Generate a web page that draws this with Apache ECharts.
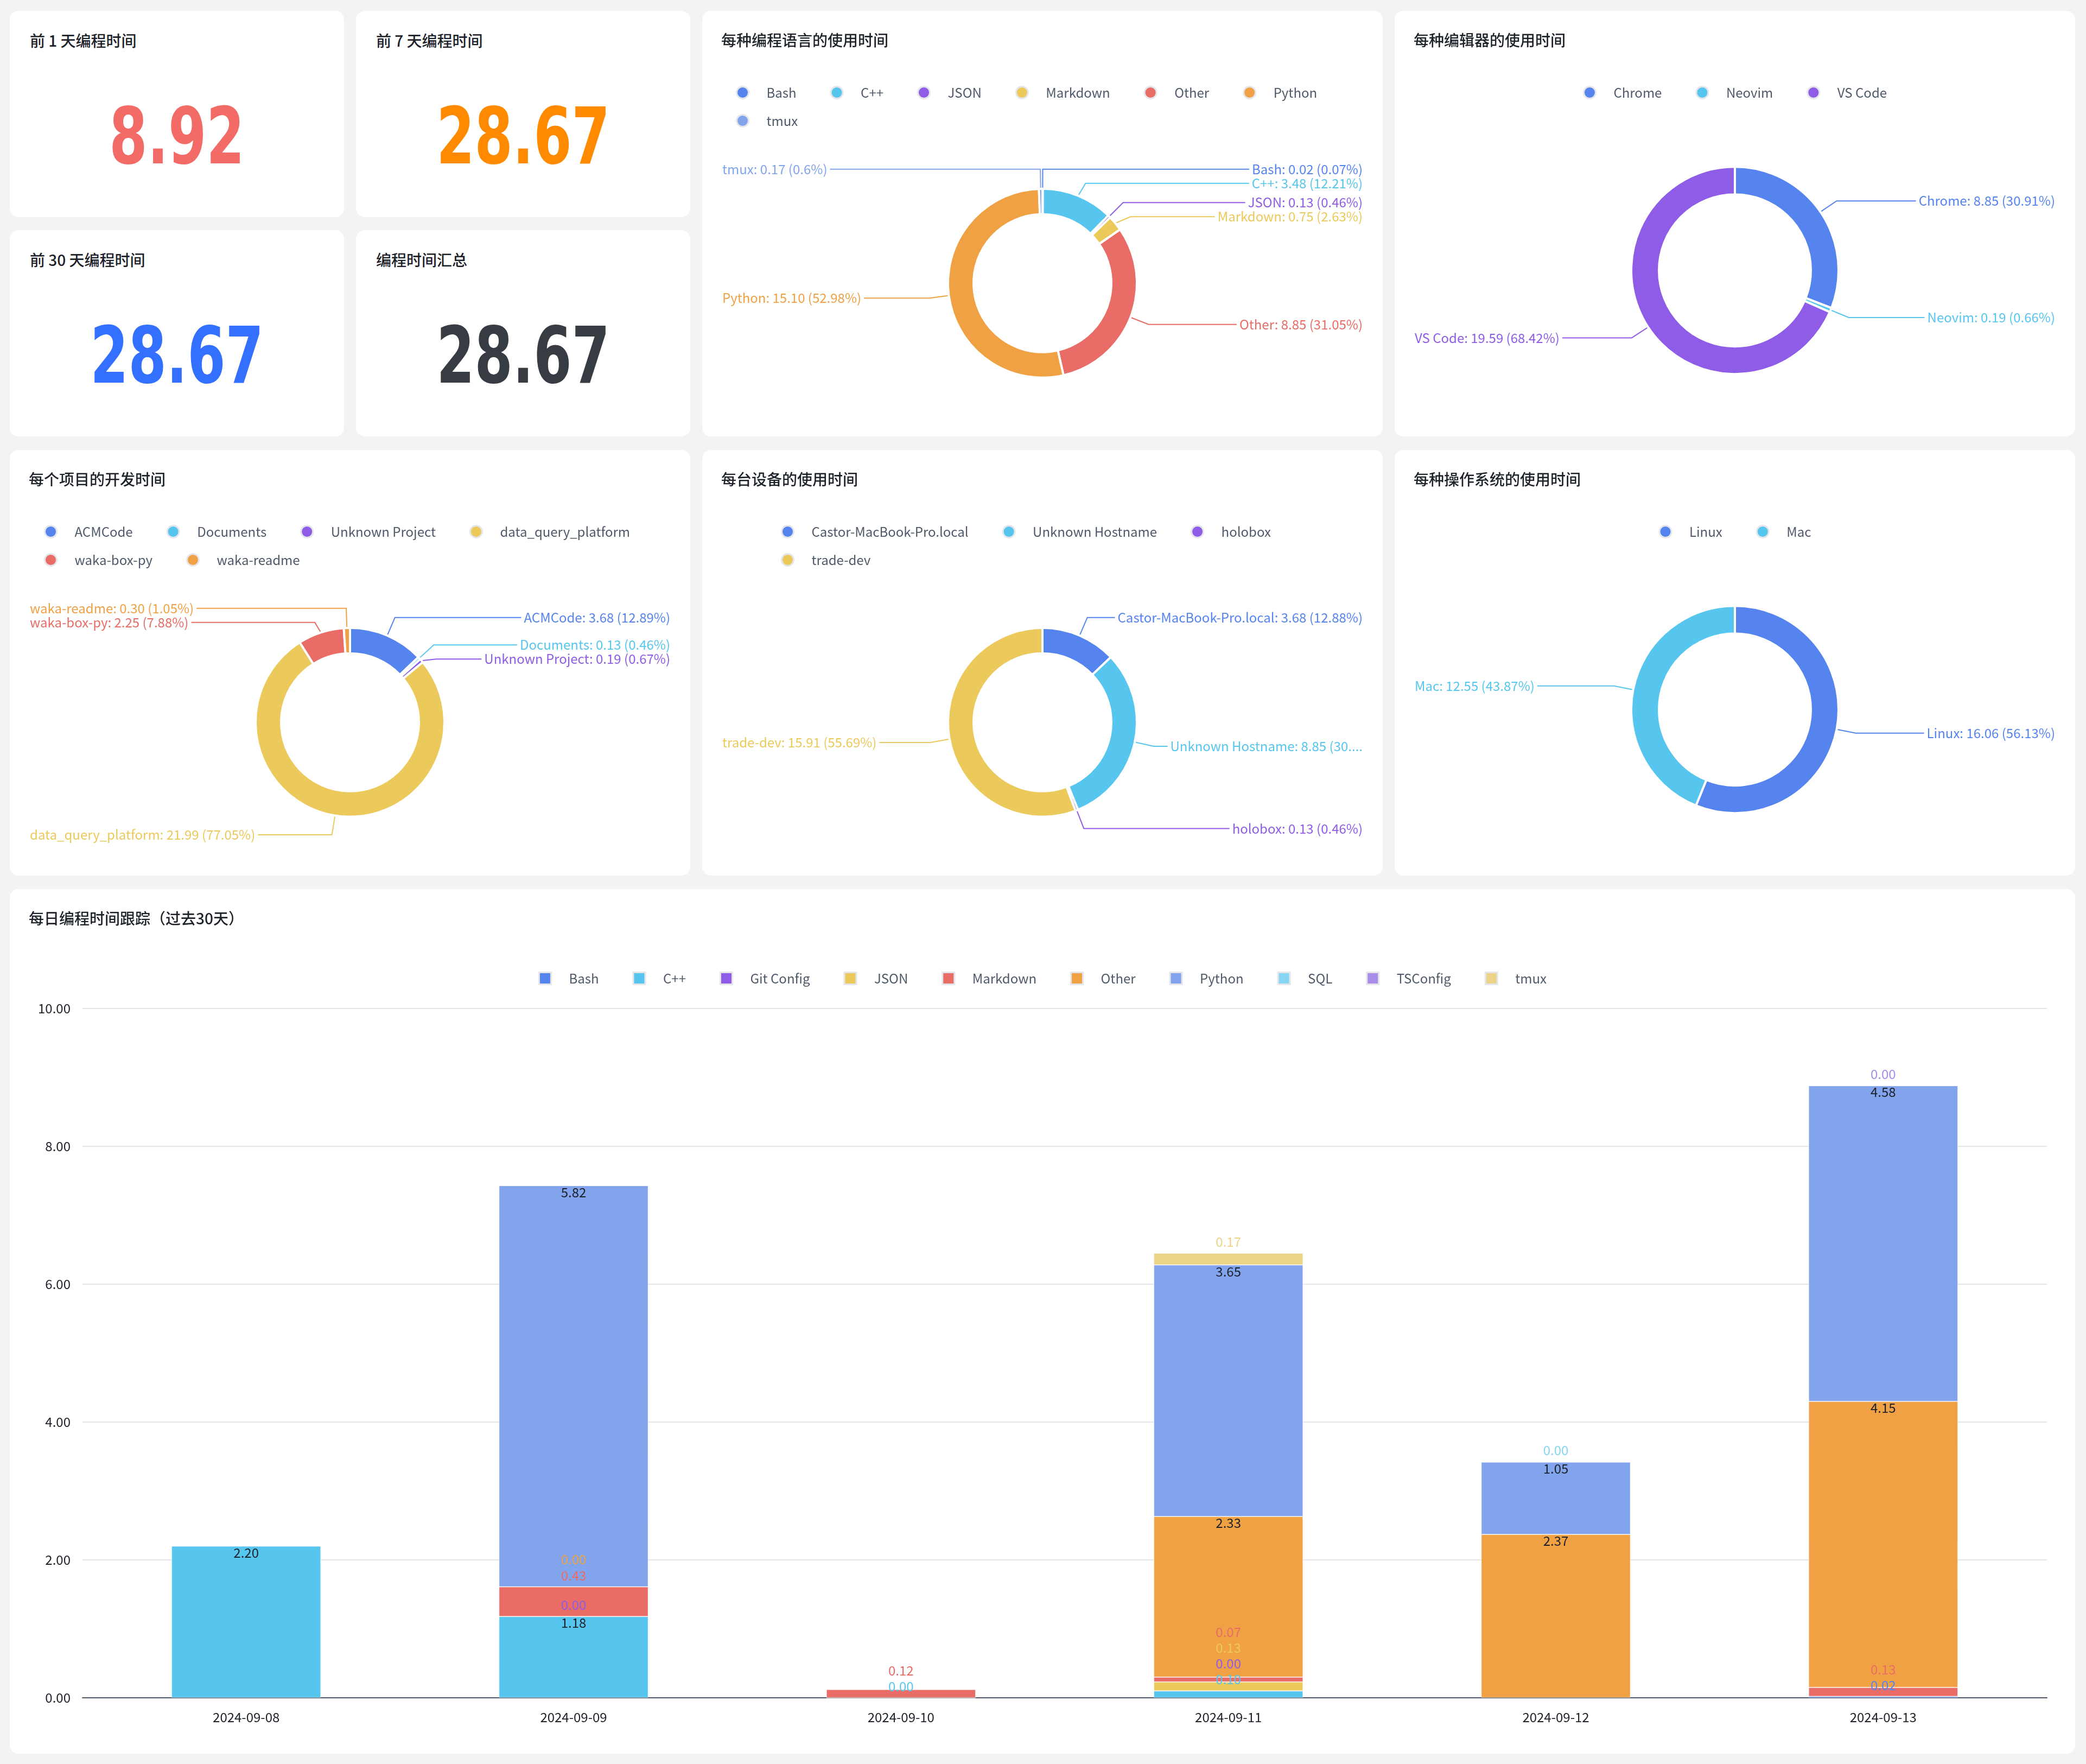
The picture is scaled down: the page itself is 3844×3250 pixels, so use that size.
<!DOCTYPE html>
<html>
<head>
<meta charset="utf-8">
<title>编程时间统计</title>
<script src="https://cdn.jsdelivr.net/npm/echarts@6.0.0/dist/echarts.min.js"></script>
<style>
  html, body { margin: 0; padding: 0; background: #f2f3f5; }
  body { width: 3844px; height: 3250px; position: relative; font-family: "Noto Sans CJK SC", sans-serif; }
  .card { position: absolute; background: #fff; border-radius: 16px; overflow: hidden; }
  .stat-title { position: absolute; left: 37px; top: 34px; font-size: 28px; line-height: 40px; font-weight: 500; color: #1d2129; }
  .stat-value { position: absolute; left: 0; right: 0; top: 156px; height: 150px; line-height: 150px; text-align: center;
    font-family: "Liberation Sans Narrow", "DejaVu Sans Condensed", sans-serif; font-weight: bold; font-size: 144px;
    transform: scaleX(0.78); transform-origin: 50% 50%; }
</style>
</head>
<body>
<div class="card" id="stat0" style="left:18px;top:20px;width:616px;height:380px"></div>
<div class="card" id="stat1" style="left:656px;top:20px;width:616px;height:380px"></div>
<div class="card" id="stat2" style="left:18px;top:424px;width:616px;height:380px"></div>
<div class="card" id="stat3" style="left:656px;top:424px;width:616px;height:380px"></div>
<div class="card" id="lang" style="left:1294px;top:20px;width:1254px;height:784px"></div>
<div class="card" id="editor" style="left:2570px;top:20px;width:1254px;height:784px"></div>
<div class="card" id="project" style="left:18px;top:829px;width:1254px;height:784px"></div>
<div class="card" id="machine" style="left:1294px;top:829px;width:1254px;height:784px"></div>
<div class="card" id="os" style="left:2570px;top:829px;width:1254px;height:784px"></div>
<div class="card" id="daily" style="left:18px;top:1638px;width:3806px;height:1593px"></div>
<script>
// 汇总数据
var statTitles = ['前 1 天编程时间', '前 7 天编程时间', '前 30 天编程时间', '编程时间汇总'];
var statValues = [8.92, 28.67, 28.67, 28.67];

// 饼图数据
var languageNames = ['Bash', 'C++', 'JSON', 'Markdown', 'Other', 'Python', 'tmux'];
var languageHours = [0.02, 3.48, 0.13, 0.75, 8.85, 15.10, 0.17];
var editorNames = ['Chrome', 'Neovim', 'VS Code'];
var editorHours = [8.85, 0.19, 19.59];
var projectNames = ['ACMCode', 'Documents', 'Unknown Project', 'data_query_platform', 'waka-box-py', 'waka-readme'];
var projectHours = [3.68, 0.13, 0.19, 21.99, 2.25, 0.30];
var machineNames = ['Castor-MacBook-Pro.local', 'Unknown Hostname', 'holobox', 'trade-dev'];
var machineHours = [3.68, 8.85, 0.13, 15.91];
var osNames = ['Linux', 'Mac'];
var osHours = [16.06, 12.55];

// 每日数据
var days = ['2024-09-08', '2024-09-09', '2024-09-10', '2024-09-11', '2024-09-12', '2024-09-13'];
var dailyLanguages = ['Bash', 'C++', 'Git Config', 'JSON', 'Markdown', 'Other', 'Python', 'SQL', 'TSConfig', 'tmux'];
var dailyBash      = [null, null, null, null, null, 0.02];
var dailyCpp       = [2.20, 1.18, 0.00, 0.10, null, null];
var dailyGitConfig = [null, 0.00, null, 0.00, null, null];
var dailyJson      = [null, null, null, 0.13, null, null];
var dailyMarkdown  = [null, 0.43, 0.12, 0.07, null, 0.13];
var dailyOther     = [null, 0.00, null, 2.33, 2.37, 4.15];
var dailyPython    = [null, 5.82, null, 3.65, 1.05, 4.58];
var dailySql       = [null, null, null, null, 0.00, null];
var dailyTsconfig  = [null, null, null, null, null, 0.00];
var dailyTmux      = [null, null, null, 0.17, null, null];
var yTicks = [0, 2, 4, 6, 8, 10];

var COLORS = ['#5584ef', '#56c6ef', '#8e5ce6', '#ecc95b', '#e96c66', '#f0a144', '#82a4ed', '#86d5f2', '#a98bea', '#ebd388'];
var statColors = ['#f36b67', '#ff8a00', '#3370ff', '#373c43'];
var FONT = '"Noto Sans CJK SC", sans-serif';

// 顶部四个数字卡片
statTitles.forEach(function (t, i) {
  var el = document.getElementById('stat' + i);
  el.innerHTML = '<div class="stat-title"></div><div class="stat-value"></div>';
  el.firstChild.textContent = t;
  el.lastChild.textContent = statValues[i].toFixed(2);
  el.lastChild.style.color = statColors[i];
});

function titleOpt(text) {
  return { text: text, left: 30, top: 35, textStyle: { fontSize: 28, fontWeight: 500, color: '#1d2129', fontFamily: FONT } };
}

function legendBase(extra) {
  var o = {
    icon: 'circle', itemWidth: 78, itemHeight: 22, itemGap: 62,
    itemStyle: { borderColor: '#e5e6eb', borderWidth: 3 },
    textStyle: { fontSize: 24, color: '#4e5969', fontFamily: FONT }
  };
  for (var k in extra) o[k] = extra[k];
  return o;
}

function pieChart(id, title, names, hours, cfg) {
  var legend;
  if (cfg.split) {
    legend = [
      legendBase({ data: names.slice(0, cfg.split), left: cfg.legendLeft, top: 133 }),
      legendBase({ data: names.slice(cfg.split), left: cfg.legendLeft, top: 185 })
    ];
  } else {
    legend = legendBase({ data: names, left: 'center', top: 133 });
  }
  var total = hours.reduce(function (a, b) { return a + b; }, 0);
  var chart = echarts.init(document.getElementById(id));
  chart.setOption({
    color: COLORS,
    textStyle: { fontFamily: FONT },
    title: titleOpt(title),
    legend: legend,
    series: [{
      type: 'pie',
      radius: cfg.radius,
      center: ['50%', cfg.cy],
      avoidLabelOverlap: true,
      itemStyle: { borderColor: '#fff', borderWidth: 4 },
      label: {
        show: true, position: 'outside', alignTo: 'edge', edgeDistance: 37,
        fontSize: 24, fontFamily: FONT,
        formatter: function (p) {
          var pct = +(p.value / total * 100).toFixed(2);
          return p.name + ': ' + p.value.toFixed(2) + ' (' + pct + '%)';
        }
      },
      labelLine: { show: true, length: 36, length2: 20, lineStyle: { width: 2 } },
      data: names.map(function (n, i) {
        return { name: n, value: hours[i], label: { color: COLORS[i % COLORS.length] } };
      })
    }]
  });
  return chart;
}

pieChart('lang', '每种编程语言的使用时间', languageNames, languageHours,
  { split: 6, legendLeft: 57, radius: [127, 174], cy: '64%' });
pieChart('editor', '每种编辑器的使用时间', editorNames, editorHours,
  { radius: [140, 191], cy: '61%' });
pieChart('project', '每个项目的开发时间', projectNames, projectHours,
  { split: 4, legendLeft: 58, radius: [127, 174], cy: '64%' });
pieChart('machine', '每台设备的使用时间', machineNames, machineHours,
  { split: 3, legendLeft: 140, radius: [127, 174], cy: '64%' });
pieChart('os', '每种操作系统的使用时间', osNames, osHours,
  { radius: [140, 191], cy: '61%' });

// 每日堆叠柱状图
var dailyHours = [dailyBash, dailyCpp, dailyGitConfig, dailyJson, dailyMarkdown,
  dailyOther, dailyPython, dailySql, dailyTsconfig, dailyTmux];
var dailyDom = document.getElementById('daily');
var gridTop = 220, gridBottom = 103;
var yMax = yTicks[yTicks.length - 1];
var ppu = (dailyDom.clientHeight - gridTop - gridBottom) / yMax;
var STEP = 29, TOP_OFF = 23, IN_OFF = 13;

// 小数值标签放在顶部，重叠时往上挪
var labelShift = dailyHours.map(function () { return []; });
days.forEach(function (d, j) {
  var cum = 0, placed = [];
  dailyHours.forEach(function (arr, i) {
    var v = arr[j];
    if (v == null) return;
    cum += v;
    if (v >= 1) { placed.push(cum * ppu - IN_OFF); return; }
    var natural = cum * ppu + TOP_OFF, y = natural, moved = true;
    while (moved) {
      moved = false;
      placed.forEach(function (p) { if (Math.abs(p - y) < STEP - 0.5) { y = p + STEP; moved = true; } });
    }
    placed.push(y);
    labelShift[i][j] = y - natural;
  });
});

var barSeries = dailyLanguages.map(function (name, i) {
  return {
    name: name, type: 'bar', stack: 'total', barWidth: '45.6%',
    itemStyle: { color: COLORS[i], borderColor: 'rgba(255,255,255,0.45)', borderWidth: 1 },
    label: { show: true, fontSize: 24, fontFamily: FONT, formatter: function (p) { return p.value.toFixed(2); } },
    data: dailyHours[i].map(function (v, j) {
      if (v == null) return null;
      if (v >= 1) return { value: v, label: { position: 'insideTop', distance: 0, color: '#1d2129' } };
      return { value: v, label: { position: 'top', distance: 9, color: COLORS[i], offset: [0, -(labelShift[i][j] || 0)] } };
    })
  };
});

var dailyChart = echarts.init(dailyDom);
dailyChart.setOption({
  color: COLORS,
  textStyle: { fontFamily: FONT },
  title: titleOpt('每日编程时间跟踪（过去30天）'),
  legend: {
    data: dailyLanguages, left: 'center', top: 147,
    icon: 'path://M0,0L10,0L10,10L0,10Z', itemWidth: 78, itemHeight: 22, itemGap: 62,
    itemStyle: { borderColor: '#e5e6eb', borderWidth: 3 },
    textStyle: { fontSize: 24, color: '#4e5969', fontFamily: FONT }
  },
  grid: { left: 134, right: 52, top: gridTop, bottom: gridBottom },
  xAxis: {
    type: 'category', data: days,
    axisTick: { show: false },
    axisLine: { lineStyle: { color: '#4e5969', width: 2 } },
    axisLabel: { fontSize: 24, color: '#1d2129', margin: 24, fontFamily: FONT }
  },
  yAxis: {
    type: 'value', min: yTicks[0], max: yMax, interval: yTicks[1] - yTicks[0],
    axisLine: { show: false }, axisTick: { show: false },
    axisLabel: { fontSize: 24, color: '#1d2129', margin: 22, fontFamily: FONT, formatter: function (v) { return v.toFixed(2); } },
    splitLine: { lineStyle: { color: '#e5e6eb', width: 2 } }
  },
  series: barSeries
});
</script>
</body>
</html>
